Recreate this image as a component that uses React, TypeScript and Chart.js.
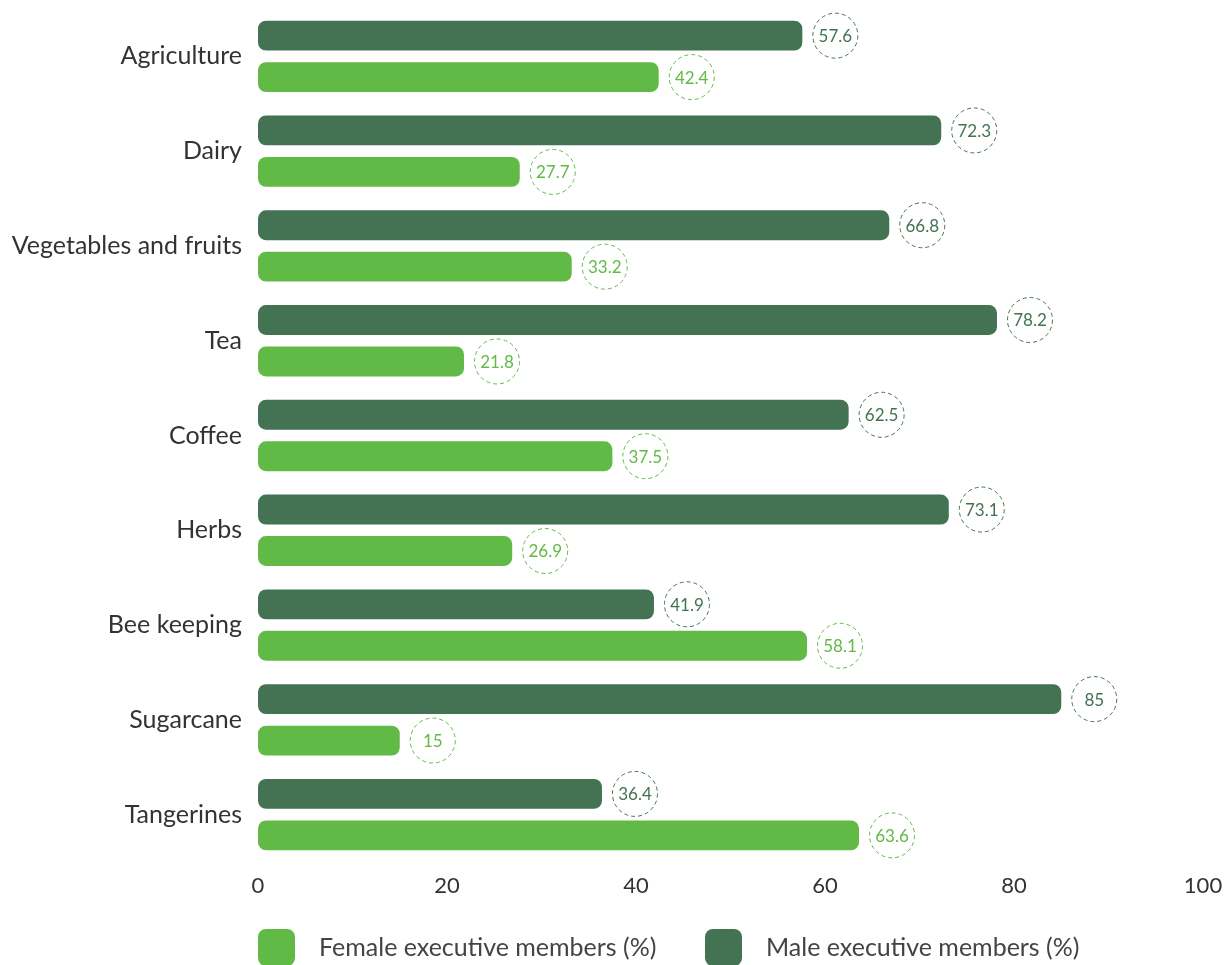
import React, { useEffect, useRef } from "react";
import { Chart, registerables } from "chart.js";

Chart.register(...registerables);

const categories = [
  "Agriculture",
  "Dairy",
  "Vegetables and fruits",
  "Tea",
  "Coffee",
  "Herbs",
  "Bee keeping",
  "Sugarcane",
  "Tangerines",
];
const maleValues = [57.6, 72.3, 66.8, 78.2, 62.5, 73.1, 41.9, 85, 36.4];
const femaleValues = [42.4, 27.7, 33.2, 21.8, 37.5, 26.9, 58.1, 15, 63.6];
const xTicks = [0, 20, 40, 60, 80, 100];
const maleLabel = "Male executive members (%)";
const femaleLabel = "Female executive members (%)";

const DARK = "#437352";
const LIGHT = "#62BA46";
const FONT = "Lato, 'Open Sans', sans-serif";

const circleLabels = {
  id: "circleLabels",
  afterDatasetsDraw(chart: any) {
    const ctx = chart.ctx;
    chart.data.datasets.forEach((ds: any, di: number) => {
      const meta = chart.getDatasetMeta(di);
      meta.data.forEach((el: any, i: number) => {
        const cx = el.x + 33;
        const cy = el.y;
        ctx.save();
        ctx.beginPath();
        ctx.setLineDash([4, 3]);
        ctx.lineWidth = 1;
        ctx.strokeStyle = ds.backgroundColor;
        ctx.arc(cx, cy, 22.5, 0, Math.PI * 2);
        ctx.stroke();
        ctx.setLineDash([]);
        ctx.fillStyle = ds.backgroundColor;
        ctx.font = `17px ${FONT}`;
        ctx.textAlign = "center";
        ctx.textBaseline = "middle";
        ctx.fillText(String(ds.data[i]), cx, cy + 1);
        ctx.restore();
      });
    });
  },
};

const customLegend = {
  id: "customLegend",
  afterDraw(chart: any) {
    const ctx = chart.ctx;
    const items = [
      { label: femaleLabel, color: LIGHT, x: chart.chartArea.left },
      { label: maleLabel, color: DARK, x: chart.chartArea.left + 447 },
    ];
    const boxY = 929;
    items.forEach((it) => {
      ctx.save();
      ctx.fillStyle = it.color;
      ctx.beginPath();
      (ctx as any).roundRect(it.x, boxY, 37, 37, 8);
      ctx.fill();
      ctx.fillStyle = "#444444";
      ctx.font = `25px ${FONT}`;
      ctx.textAlign = "left";
      ctx.textBaseline = "middle";
      ctx.fillText(it.label, it.x + 61, boxY + 19);
      ctx.restore();
    });
  },
};

export default function App() {
  const ref = useRef<HTMLCanvasElement>(null);
  useEffect(() => {
    if (!ref.current) return;
    const chart = new Chart(ref.current, {
      type: "bar",
      data: {
        labels: categories,
        datasets: [
          {
            label: maleLabel,
            data: maleValues,
            backgroundColor: DARK,
            borderRadius: 8,
            borderSkipped: false,
            categoryPercentage: 0.875,
            barPercentage: 0.72,
          },
          {
            label: femaleLabel,
            data: femaleValues,
            backgroundColor: LIGHT,
            borderRadius: 8,
            borderSkipped: false,
            categoryPercentage: 0.875,
            barPercentage: 0.72,
          },
        ],
      },
      options: {
        indexAxis: "y",
        responsive: false,
        animation: false,
        layout: { padding: { top: 9, right: 24, bottom: 63, left: 0 } },
        plugins: {
          legend: { display: false },
          tooltip: { enabled: false },
        },
        scales: {
          x: {
            min: 0,
            max: 100,
            afterBuildTicks: (s: any) => {
              s.ticks = xTicks.map((v) => ({ value: v }));
            },
            afterFit: (s: any) => {
              s.height = 40;
              s.paddingLeft = 0;
              s.paddingRight = 0;
            },
            grid: { display: false, drawTicks: false },
            border: { display: false },
            ticks: {
              padding: 11,
              color: "#333333",
              font: { family: FONT, size: 22 },
              maxRotation: 0,
            },
          },
          y: {
            afterFit: (s: any) => {
              s.width = 258;
              s.paddingTop = 0;
              s.paddingBottom = 0;
            },
            grid: { display: false, drawTicks: false },
            border: { display: false },
            ticks: {
              padding: 16,
              color: "#333333",
              font: { family: FONT, size: 25 },
            },
          },
        },
      },
      plugins: [circleLabels, customLegend],
    });
    return () => chart.destroy();
  }, []);
  return (
    <div style={{ position: "absolute", left: 0, top: 0, width: 1227, height: 965, background: "#fff" }}>
      <canvas ref={ref} width={1227} height={965} style={{ width: 1227, height: 965, display: "block" }} />
    </div>
  );
}
